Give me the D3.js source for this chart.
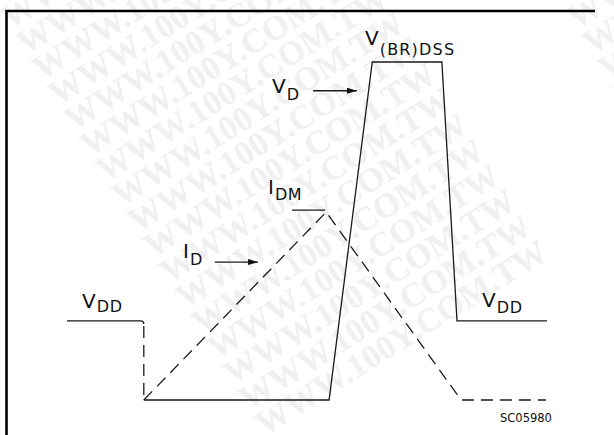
<!DOCTYPE html>
<html>
<head>
<meta charset="utf-8">
<script src="https://cdn.jsdelivr.net/npm/d3@7"></script>
<style>
  body { margin: 0; background: #fff; }
  svg { display: block; }
  .wave { fill: none; stroke: #1a1a1a; stroke-width: 1.3; }
  .dash { stroke-dasharray: 12 7; }
  .lbl { font-family: "DejaVu Sans", sans-serif; fill: #111; }
  .wm { font-family: "Liberation Serif", serif; font-weight: bold; font-size: 34px; fill: #f0f0f0; }
</style>
</head>
<body>
<div id="chart"></div>
<script>
// Normalised waveform: time 0..1 across the trace, level 0 = ground, 1 = V(BR)DSS
const vdTimes  = [0, 0.160, 0.160, 0.546, 0.636, 0.781, 0.8125, 1.0];
const vdLevels = [0.234, 0.234, 0, 0, 1, 1, 0.234, 0.234];

const idTimes  = [0.160, 0.540, 0.821, 0.998];
const idLevels = [0, 0.556, 0, 0];

// short marker at the peak current
const idmTimes = [0.469, 0.538];
const idmLevel = 0.562;

// pointer arrows [t0, t1, level]
const vdArrow = [0.5125, 0.604, 0.915];
const idArrow = [0.308, 0.398, 0.408];

const figureCode = "SC05980";
const watermark = "WWW.100Y.COM.TW";

const W = 614, H = 435;
const svg = d3.select("#chart").append("svg")
  .attr("width", W).attr("height", H);

const x = d3.scaleLinear().domain([0, 1]).range([67, 547]);
const y = d3.scaleLinear().domain([0, 1]).range([400, 62]);

// faint watermark: a band of stacked rows running up-right
const wmLayer = svg.append("g");
const ang = -32, rad = ang * Math.PI / 180;
for (let k = 0; k < 17; k++) {
  const sx = 10 + 15.9 * k, sy = 30 + 25.4 * k;
  [0, 480].forEach(off => {
    wmLayer.append("text")
      .attr("class", "wm")
      .attr("transform", `translate(${sx + off * Math.cos(rad)},${sy + off * Math.sin(rad)}) rotate(${ang})`)
      .text(watermark);
  });
}

// frame (only top and left edges are in view)
svg.append("path")
  .attr("d", "M595,11 H6.5 V435")
  .attr("fill", "none")
  .attr("stroke", "#000")
  .attr("stroke-width", 2.6);

// marker for arrows
svg.append("defs").append("marker")
  .attr("id", "ah")
  .attr("viewBox", "0 0 10 8")
  .attr("refX", 10).attr("refY", 4)
  .attr("markerWidth", 10).attr("markerHeight", 8)
  .attr("markerUnits", "userSpaceOnUse")
  .attr("orient", "auto")
  .append("path").attr("d", "M0,1 L10,4 L0,7 Z").attr("fill", "#111");

const vd = vdTimes.map((t, i) => [x(t), y(vdLevels[i])]);
const id = idTimes.map((t, i) => [x(t), y(idLevels[i])]);
const line = d3.line();

// V_D: left V_DD level with small rounded corner
const rc = 3;
svg.append("path").attr("class", "wave")
  .attr("d", `M${vd[0][0]},${vd[0][1]} L${vd[1][0] - rc},${vd[1][1]} Q${vd[1][0]},${vd[1][1]} ${vd[1][0]},${vd[1][1] + rc}`);
// dashed drop at turn-off
svg.append("path").attr("class", "wave dash")
  .attr("d", line([[vd[1][0], vd[1][1] + 5], vd[2]]));
// rest of V_D
svg.append("path").attr("class", "wave")
  .attr("d", line(vd.slice(2)));

// I_D dashed
svg.append("path").attr("class", "wave dash")
  .attr("d", line(id));

// I_DM marker
svg.append("path").attr("class", "wave")
  .attr("d", line(idmTimes.map(t => [x(t), y(idmLevel)])));

// arrows
[vdArrow, idArrow].forEach(a => {
  svg.append("path").attr("class", "wave")
    .attr("stroke-width", 1.2)
    .attr("marker-end", "url(#ah)")
    .attr("d", line([[x(a[0]), y(a[2])], [x(a[1]), y(a[2])]]));
});

// labels: main letter + subscript
function label(px, py, main, sub, subDy, spacing) {
  const t = svg.append("text").attr("class", "lbl")
    .attr("x", px).attr("y", py);
  t.append("tspan").attr("font-size", 20).text(main);
  t.append("tspan").attr("font-size", 16)
    .attr("dx", 1).attr("dy", subDy)
    .attr("letter-spacing", spacing)
    .text(sub);
}
label(365, 45, "V", "(BR)DSS", 10, 1.2);
label(272, 93, "V", "D", 7, 1);
label(268, 194, "I", "DM", 6, 0.5);
label(183, 258, "I", "D", 7, 1);
label(82, 308, "V", "DD", 4, 0.8);
label(482, 307, "V", "DD", 6, 0.8);

svg.append("text").attr("class", "lbl")
  .attr("x", 500).attr("y", 422)
  .attr("font-size", 11.5)
  .text(figureCode);
</script>
</body>
</html>
